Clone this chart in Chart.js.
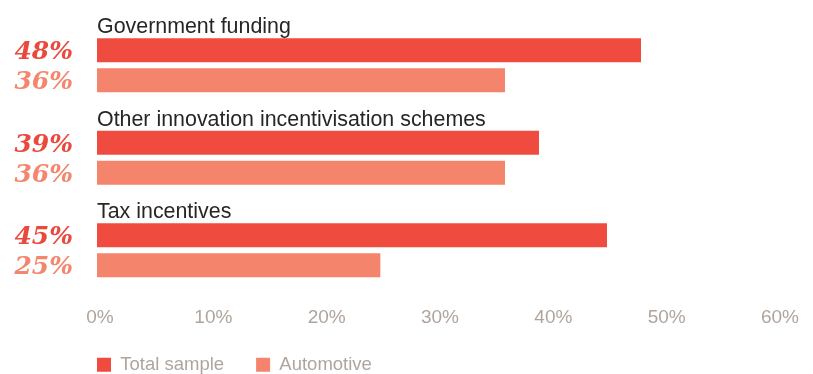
<!DOCTYPE html>
<html>
<head>
<meta charset="utf-8">
<title>Funding sources</title>
<script src="https://cdn.jsdelivr.net/npm/chart.js@4.4.1/dist/chart.umd.min.js"></script>
<style>
  html, body { margin: 0; padding: 0; background: #ffffff; }
  #wrap { position: relative; width: 813px; height: 374px; }
</style>
</head>
<body>
<div id="wrap"><canvas id="chart"></canvas></div>
<script>
// Data
const categories = ['Government funding', 'Other innovation incentivisation schemes', 'Tax incentives'];
const seriesNames = ['Total sample', 'Automotive'];
const totalSample = [48, 39, 45];
const automotive = [36, 36, 25];
const tickValues = [0, 10, 20, 30, 40, 50, 60];

const RED = '#ef4c3f';
const SALMON = '#f5846d';
const RED_TEXT = '#ea4a3e';
const SALMON_TEXT = '#f4866e';
const GREY = '#b0a59d';
const DARK = '#262626';

// Category headings above each pair of bars, and the percentage figures to the left of each bar
const annotate = {
  id: 'annotate',
  afterDatasetsDraw(chart) {
    const ctx = chart.ctx;
    const y = chart.scales.y;
    const xs = chart.scales.x;
    ctx.save();
    ctx.font = '21.4px "Liberation Sans", Arial, sans-serif';
    ctx.fillStyle = DARK;
    ctx.textAlign = 'left';
    ctx.textBaseline = 'alphabetic';
    categories.forEach((c, i) => {
      ctx.fillText(c, xs.getPixelForValue(0), y.getPixelForValue(i) - 32);
    });
    ctx.font = 'italic bold 25px "DejaVu Serif", Georgia, serif';
    ctx.textAlign = 'right';
    const colors = [RED_TEXT, SALMON_TEXT];
    chart.data.datasets.forEach((ds, di) => {
      const meta = chart.getDatasetMeta(di);
      ctx.fillStyle = colors[di];
      meta.data.forEach((bar, i) => {
        ctx.fillText(ds.data[i] + '%', 73, bar.y + 9);
      });
    });
    ctx.restore();
  }
};

new Chart(document.getElementById('chart'), {
  type: 'bar',
  data: {
    labels: categories,
    datasets: [
      { label: seriesNames[0], data: totalSample, backgroundColor: RED, borderWidth: 0 },
      { label: seriesNames[1], data: automotive, backgroundColor: SALMON, borderWidth: 0 }
    ]
  },
  options: {
    indexAxis: 'y',
    responsive: true,
    maintainAspectRatio: false,
    animation: false,
    layout: { padding: { left: 65, right: 36, top: 19, bottom: -10 } },
    datasets: {
      bar: { categoryPercentage: 0.647, barPercentage: 0.8 }
    },
    scales: {
      x: {
        min: 0,
        max: 60,
        afterBuildTicks(scale) { scale.ticks = tickValues.map(v => ({ value: v })); },
        grid: { display: false, drawTicks: false },
        border: { display: false },
        afterFit(scale) { scale.height = 27; },
        ticks: {
          padding: 10,
          labelOffset: 3,
          color: GREY,
          font: { family: '"Liberation Sans", Arial, sans-serif', size: 19 },
          callback: v => v + '%'
        }
      },
      y: {
        grid: { display: false, drawTicks: false },
        border: { display: false },
        ticks: { display: false },
        afterFit(scale) { scale.width = 32; }
      }
    },
    plugins: {
      legend: {
        position: 'bottom',
        align: 'start',
        labels: {
          boxWidth: 14,
          boxHeight: 14,
          padding: 32,
          color: GREY,
          font: { family: '"Liberation Sans", Arial, sans-serif', size: 18.5 }
        }
      },
      tooltip: { enabled: false }
    }
  },
  plugins: [annotate]
});
</script>
</body>
</html>
